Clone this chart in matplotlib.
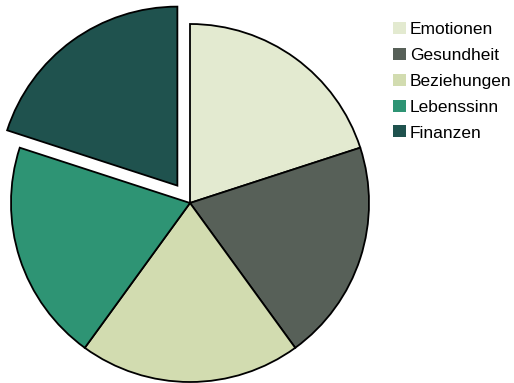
import matplotlib
matplotlib.use("Agg")
import matplotlib.pyplot as plt

categories = ["Emotionen", "Gesundheit", "Beziehungen", "Lebenssinn", "Finanzen"]
values = [20, 20, 20, 20, 20]
colors = ["#e3ead0", "#576058", "#d2dcb0", "#2e9474", "#1f524e"]
explode = [0, 0, 0, 0, 0.12]

plt.rcParams['font.family'] = ['Liberation Sans', 'DejaVu Sans']

fig = plt.figure(figsize=(5.14, 3.83), dpi=100)
W, H = 514, 383
cx, cy, r = 190, 180, 179
ax = fig.add_axes([(cx - r) / W, (cy - r) / H, 2 * r / W, 2 * r / H])
wedges, _ = ax.pie(values, colors=colors, explode=explode, startangle=90,
                   counterclock=False, radius=1,
                   wedgeprops=dict(edgecolor="black", linewidth=1.3))
for w in wedges:
    w.set_clip_on(False)
ax.set_xlim(-1, 1)
ax.set_ylim(-1, 1)
ax.set_aspect("equal")
ax.axis("off")

leg = fig.legend(wedges, categories, loc="upper left",
                 bbox_to_anchor=(393 / W, 1 - 22 / H), frameon=False,
                 fontsize=12.5, handlelength=0.75, handleheight=0.69,
                 handletextpad=0.22, labelspacing=0.62, borderpad=0,
                 borderaxespad=0)
for h in leg.legend_handles:
    h.set_linewidth(0)
fig.savefig("out.png", dpi=100)
